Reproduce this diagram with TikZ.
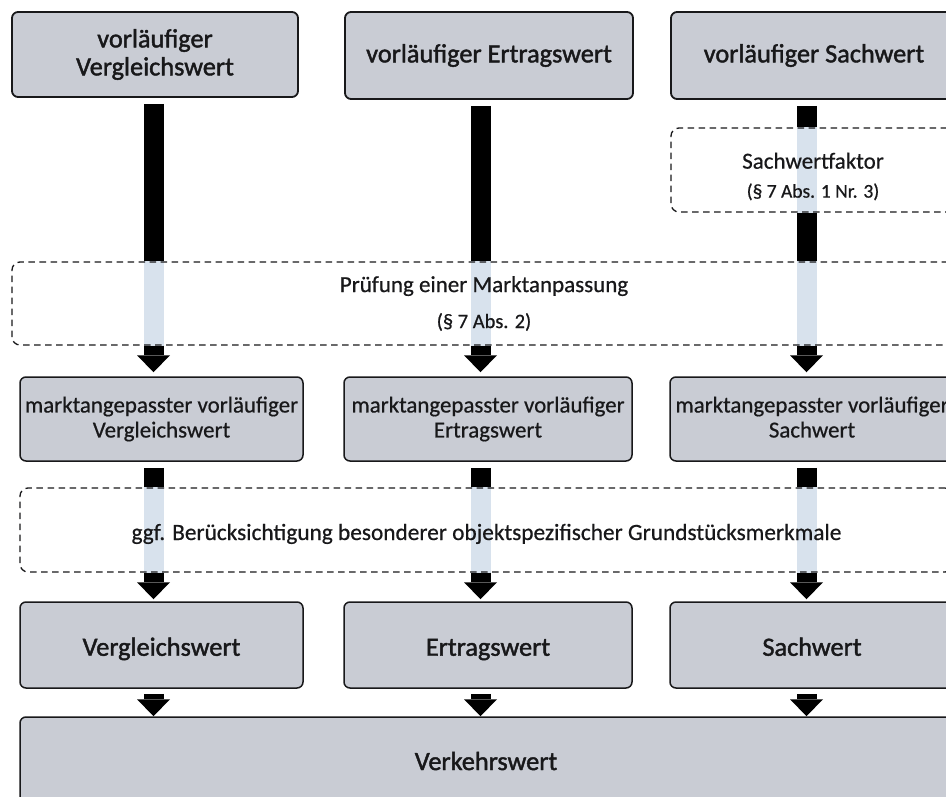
\documentclass[tikz,border=0pt]{standalone}
\usepackage{fontspec}
\setmainfont{Carlito}[FakeBold=0.6]
\newfontfamily\heavyface{Carlito}[FakeBold=1.6]
\usetikzlibrary{arrows.meta,calc}
\definecolor{boxfill}{RGB}{201,204,212}
\definecolor{shaftlight}{RGB}{216,226,237}
\definecolor{ink}{RGB}{24,24,26}
\pgfdeclarelayer{bg}\pgfsetlayers{bg,main}
\begin{document}
\begin{tikzpicture}[x=1pt,y=-1pt,
  solidbox/.style={draw=ink, line width=1.8pt, fill=boxfill, rounded corners=6pt, inner sep=0pt, align=center, text=ink},
  dashbox/.style={draw=ink, line width=1.3pt, dash pattern=on 6.5pt off 4.5pt, rounded corners=8pt, inner sep=0pt, align=center, text=ink},
  bigtext/.style={font=\heavyface\fontsize{26.3}{28}\selectfont},
  midtext/.style={font=\fontsize{22.9}{25}\selectfont},
  shaft/.style={line width=20pt},
  darkshaft/.style={shaft, draw=black},
  lightshaft/.style={shaft, draw=shaftlight},
  headarrow/.style={darkshaft, -{Triangle[width=33pt,length=17pt,line width=0pt]}},
]
\useasboundingbox (0,0) rectangle (946,797);
\begin{scope}
\clip (0,0) rectangle (946,797);
% top row
\node[solidbox, bigtext, minimum width=286pt, minimum height=85pt] (v1) at (155,54.5) {vorläufiger\\Vergleichswert};
\node[solidbox, bigtext, minimum width=288pt, minimum height=87pt] (v2) at (489,55.5) {vorläufiger Ertragswert};
\node[solidbox, bigtext, minimum width=286pt, minimum height=87pt] (v3) at (814,55.5) {vorläufiger Sachwert};
% Sachwertfaktor
\node[dashbox, font=\fontsize{23}{29}\selectfont, minimum width=284pt, minimum height=84pt] (sf) at (813,170) {\rule{0pt}{29pt}Sachwertfaktor\\{\fontsize{19.5}{29}\selectfont (§ 7 Abs. 1 Nr. 3)}};
% Pruefung
\node[dashbox, font=\fontsize{23}{36}\selectfont, minimum width=944pt, minimum height=83pt] (pm) at (484,303.5) {Prüfung einer Marktanpassung\\{\fontsize{20.5}{36}\selectfont (§ 7 Abs. 2)}};
% middle row
\node[solidbox, midtext, line width=1.5pt, minimum width=283pt, minimum height=84pt] (m1) at (161.5,419) {marktangepasster vorläufiger\\Vergleichswert};
\node[solidbox, midtext, line width=1.5pt, minimum width=288pt, minimum height=84pt] (m2) at (488,419) {marktangepasster vorläufiger\\Ertragswert};
\node[solidbox, midtext, line width=1.5pt, minimum width=284pt, minimum height=84pt] (m3) at (812,419) {marktangepasster vorläufiger\\Sachwert\vphantom{g}};
% ggf
\node[dashbox, font=\fontsize{23.3}{26}\selectfont, minimum width=933pt, minimum height=84pt] (gg) at (486.5,530) {\rule{0pt}{24pt}ggf. Berücksichtigung besonderer objektspezifischer Grundstücksmerkmale};
% bottom row
\node[solidbox, bigtext, line width=1.5pt, minimum width=283pt, minimum height=86pt] (e1) at (161.5,645) {\rule{0pt}{26pt}Vergleichswert};
\node[solidbox, bigtext, line width=1.5pt, minimum width=288pt, minimum height=86pt] (e2) at (488,645) {\rule{0pt}{26pt}Ertragswert};
\node[solidbox, bigtext, line width=1.5pt, minimum width=284pt, minimum height=86pt] (e3) at (812,645) {\rule{0pt}{26pt}Sachwert\vphantom{g}};
% Verkehrswert
\node[solidbox, bigtext, line width=1.5pt, minimum width=932pt, minimum height=88pt] (vw) at (486,761) {Verkehrswert};
\end{scope}
% columns
\coordinate (c1) at (153.5,0);
\coordinate (c2) at (480.5,0);
\coordinate (c3) at (806.5,0);
\begin{pgfonlayer}{bg}
% column 1
\draw[darkshaft] ($(v1.south -| c1)+(0,6)$) -- (pm.north -| c1);
\draw[lightshaft] (pm.north -| c1) -- (pm.south -| c1);
\draw[headarrow] (pm.south -| c1) -- ($(m1.north -| c1)+(0,-4)$);
\draw[darkshaft] ($(m1.south -| c1)+(0,6)$) -- (gg.north -| c1);
\draw[lightshaft] (gg.north -| c1) -- (gg.south -| c1);
\draw[headarrow] (gg.south -| c1) -- ($(e1.north -| c1)+(0,-2)$);
\draw[headarrow] ($(e1.south -| c1)+(0,5)$) -- (vw.north -| c1);
% column 2
\draw[darkshaft] ($(v2.south -| c2)+(0,6)$) -- (pm.north -| c2);
\draw[lightshaft] (pm.north -| c2) -- (pm.south -| c2);
\draw[headarrow] (pm.south -| c2) -- ($(m2.north -| c2)+(0,-4)$);
\draw[darkshaft] ($(m2.south -| c2)+(0,6)$) -- (gg.north -| c2);
\draw[lightshaft] (gg.north -| c2) -- (gg.south -| c2);
\draw[headarrow] (gg.south -| c2) -- ($(e2.north -| c2)+(0,-2)$);
\draw[headarrow] ($(e2.south -| c2)+(0,5)$) -- (vw.north -| c2);
% column 3
\draw[darkshaft] ($(v3.south -| c3)+(0,6)$) -- (sf.north -| c3);
\draw[lightshaft] (sf.north -| c3) -- (sf.south -| c3);
\draw[darkshaft] (sf.south -| c3) -- (pm.north -| c3);
\draw[lightshaft] (pm.north -| c3) -- (pm.south -| c3);
\draw[headarrow] (pm.south -| c3) -- ($(m3.north -| c3)+(0,-4)$);
\draw[darkshaft] ($(m3.south -| c3)+(0,6)$) -- (gg.north -| c3);
\draw[lightshaft] (gg.north -| c3) -- (gg.south -| c3);
\draw[headarrow] (gg.south -| c3) -- ($(e3.north -| c3)+(0,-2)$);
\draw[headarrow] ($(e3.south -| c3)+(0,5)$) -- (vw.north -| c3);
\end{pgfonlayer}
\end{tikzpicture}
\end{document}
